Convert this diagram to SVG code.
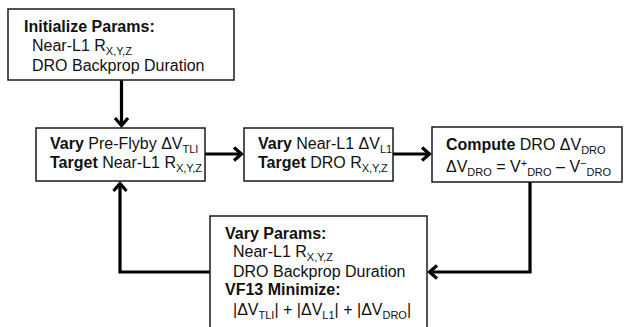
<svg xmlns="http://www.w3.org/2000/svg" width="624" height="327" viewBox="0 0 624 327">
<style>
.box{fill:#fff;stroke:#1a1a1a;stroke-width:1.5}
.t{font-family:"Liberation Sans",Arial,sans-serif;font-size:16px;fill:#111}
.b{font-weight:bold}
.sub{font-size:11px}
.con{fill:none;stroke:#000;stroke-width:3.2;stroke-linejoin:miter}
</style>
<defs>
<marker id="ah" markerUnits="userSpaceOnUse" markerWidth="16" markerHeight="16" viewBox="-12 -8 14 16" refX="0" refY="0" orient="auto">
<path d="M-8,-6.5 L-0.5,0 L-8,6.5" fill="none" stroke="#000" stroke-width="3.2"/>
</marker>
</defs>
<g id="connectors">
<path class="con" d="M121.5,80 V126" marker-end="url(#ah)"/>
<path class="con" d="M205,154 H242" marker-end="url(#ah)"/>
<path class="con" d="M393,154 H430" marker-end="url(#ah)"/>
<path class="con" d="M530,182 V272 H429" marker-end="url(#ah)"/>
<path class="con" d="M210,272 H120 V183" marker-end="url(#ah)"/>
</g>
<g id="init">
<rect class="box" x="8" y="9" width="226" height="71"/>
<text class="t b" x="24" y="32">Initialize Params:</text>
<text class="t" x="32" y="51">Near-L1 R<tspan class="sub" dy="4">X,Y,Z</tspan></text>
<text class="t" x="32" y="71">DRO Backprop Duration</text>
</g>
<g id="vary1">
<rect class="box" x="36" y="128" width="169" height="53"/>
<text class="t" x="50" y="149"><tspan class="b">Vary</tspan> Pre-Flyby ΔV<tspan class="sub" dy="4">TLI</tspan></text>
<text class="t" x="50" y="168"><tspan class="b">Target</tspan> Near-L1 R<tspan class="sub" dy="4">X,Y,Z</tspan></text>
</g>
<g id="vary2">
<rect class="box" x="244" y="128" width="149" height="53"/>
<text class="t" x="258" y="149"><tspan class="b">Vary</tspan> Near-L1 ΔV<tspan class="sub" dy="4">L1</tspan></text>
<text class="t" x="258" y="168"><tspan class="b">Target</tspan> DRO R<tspan class="sub" dy="4">X,Y,Z</tspan></text>
</g>
<g id="compute">
<rect class="box" x="432" y="127" width="190" height="55"/>
<text class="t" x="446" y="150"><tspan class="b">Compute</tspan> DRO ΔV<tspan class="sub" dy="4">DRO</tspan></text>
<text class="t" x="446" y="172">ΔV<tspan class="sub" dy="4">DRO</tspan><tspan dy="-4"> = V</tspan><tspan class="sub" dy="-5">+</tspan><tspan class="sub" dy="9">DRO</tspan><tspan dy="-4"> – V</tspan><tspan class="sub" dy="-5">−</tspan><tspan class="sub" dy="9">DRO</tspan></text>
</g>
<g id="minimize">
<rect class="box" x="210" y="216" width="217" height="120"/>
<text class="t b" x="225" y="239">Vary Params:</text>
<text class="t" x="233" y="257">Near-L1 R<tspan class="sub" dy="4">X,Y,Z</tspan></text>
<text class="t" x="233" y="277">DRO Backprop Duration</text>
<text class="t b" x="225" y="295">VF13 Minimize:</text>
<text class="t" x="233" y="315">|ΔV<tspan class="sub" dy="4">TLI</tspan><tspan dy="-4">| + |ΔV</tspan><tspan class="sub" dy="4">L1</tspan><tspan dy="-4">| + |ΔV</tspan><tspan class="sub" dy="4">DRO</tspan><tspan dy="-4">|</tspan></text>
</g>
</svg>
